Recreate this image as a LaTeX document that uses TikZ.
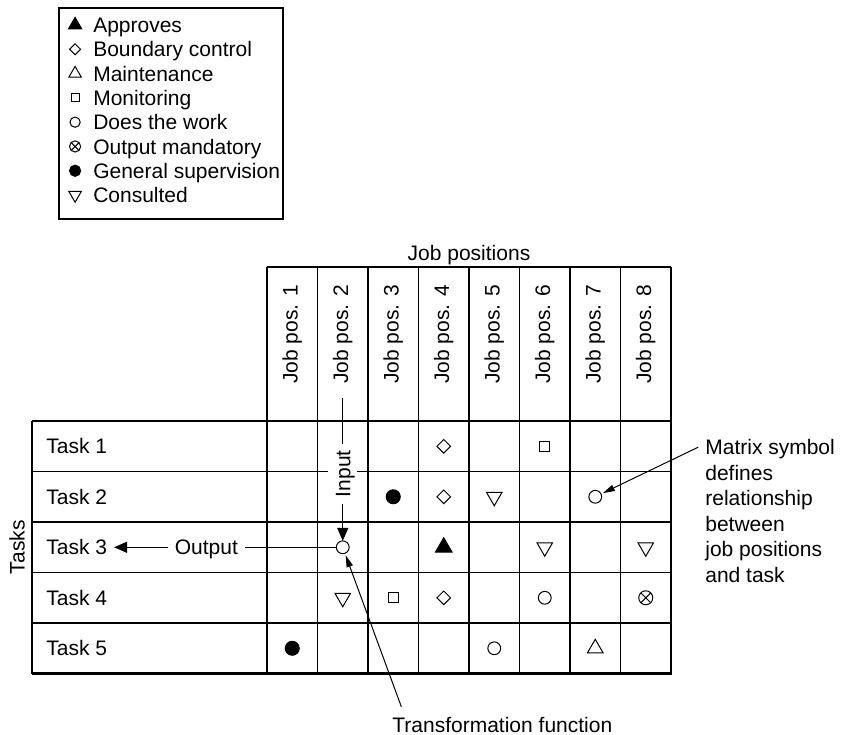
\documentclass[tikz,border=0pt]{standalone}
\usepackage{fontspec}
\setmainfont{Liberation Sans}
\usetikzlibrary{positioning,shapes.geometric,arrows.meta}
\newcommand{\markScale}{1}
\tikzstyle{chart} = [x = 25.25pt, y = -25.25pt, every node/.style={font=\fontsize{10.5}{12.8}\selectfont}]
\tikzstyle{gridLine} = [color=black, line width=.65pt]
\tikzstyle{borderLine} = [color=black, line width=1.2pt]
\tikzstyle{capText} = [text height=7.6pt, text depth=0pt]
\tikzstyle{markStyle} = [draw=black, fill=white, line width=.5pt, inner sep=0pt, outer sep=0pt]
\tikzstyle{approveMark} = [markStyle, regular polygon, regular polygon sides=3, minimum size=9.5pt*\markScale, fill=black]
\tikzstyle{boundaryMark} = [markStyle, diamond, minimum size=6.8pt*\markScale]
\tikzstyle{maintainMark} = [markStyle, regular polygon, regular polygon sides=3, minimum size=9pt*\markScale]
\tikzstyle{monitorMark} = [markStyle, rectangle, minimum size=5pt*\markScale]
\tikzstyle{workMark} = [markStyle, circle, minimum size=6.4pt*\markScale]
\tikzstyle{outputMark} = [markStyle, circle, minimum size=7pt*\markScale, path picture={\draw [line width=.5pt] (path picture bounding box.north west) -- (path picture bounding box.south east) (path picture bounding box.north east) -- (path picture bounding box.south west);}]
\tikzstyle{superviseMark} = [markStyle, circle, minimum size=7pt*\markScale, fill=black]
\tikzstyle{consultMark} = [markStyle, regular polygon, regular polygon sides=3, shape border rotate=180, minimum size=9pt*\markScale]
\tikzstyle{bigArrow} = [-{Triangle[length=6.5pt, width=5.5pt]}, line width=.65pt]
\tikzstyle{thinArrow} = [-{Triangle[length=6pt, width=3.2pt]}, line width=.5pt, shorten >=1pt]
\newcommand{\cellMark}[3]{\node [#3] (mark#1#2) at (#2 - .5, #1 - .5) {};}
\newcommand{\taskGridLines}[2]{
  \foreach \row in {0,...,#1} {
    \draw [gridLine] (-4.653, \row) -- (#2, \row);
  }
  \foreach \column in {0,...,#2} {
    \draw [gridLine] (\column, -3.05) -- (\column, #1);
  }
  \draw [gridLine] (-4.653, 0) -- (-4.653, #1);
  \draw [gridLine] (0, -3.05) -- (#2, -3.05);
  \draw [borderLine] (-4.653, #1) -- (#2, #1) -- (#2, 0);
}

\begin{document}
\begin{tikzpicture}[chart]
\useasboundingbox (-5.287, -8.337) rectangle (11.485, 6.198);
\draw [gridLine] (-4.119, -8.178) rectangle (.317, -4.0);
\foreach \markKind/\legendText [count=\i] in {approveMark/Approves, boundaryMark/Boundary control, maintainMark/Maintenance, monitorMark/Monitoring, workMark/Does the work, outputMark/Output mandatory, superviseMark/General supervision, consultMark/Consulted} {
  \renewcommand{\markScale}{.8}
  \pgfmathsetmacro{\legendY}{-7.842 + (\i - 1) * .481}
  \node [\markKind] (legendMark\i) at (-3.80, \legendY) {};
  \node [capText, anchor=west] (legendText\i) at (-3.58, \legendY) {\legendText};
}
\taskGridLines{5}{8}
\node (jobTitle) at (4, -3.29) {Job positions};
\foreach \column in {1,...,8} {
  \node [rotate=90] (job\column) at (\column - .5, -1.713) {Job pos. \column};
}
\foreach \row in {1,...,5} {
  \node [capText, anchor=west] (task\row) at (-4.509, \row - .5) {Task \row};
}
\node [rotate=90] (tasksTitle) at (-4.95, 2.5) {Tasks};
\cellMark{1}{4}{boundaryMark}\cellMark{1}{6}{monitorMark}
\cellMark{2}{3}{superviseMark}\cellMark{2}{4}{boundaryMark}\cellMark{2}{5}{consultMark}\cellMark{2}{7}{workMark}
\cellMark{3}{2}{workMark}\cellMark{3}{4}{approveMark}\cellMark{3}{6}{consultMark}\cellMark{3}{8}{consultMark}
\cellMark{4}{2}{consultMark}\cellMark{4}{3}{monitorMark}\cellMark{4}{4}{boundaryMark}\cellMark{4}{6}{workMark}\cellMark{4}{8}{outputMark}
\cellMark{5}{1}{superviseMark}\cellMark{5}{5}{workMark}\cellMark{5}{7}{maintainMark}
\coordinate (inputStart) at (1.5, -.455);
\draw [bigArrow] (inputStart) -- (mark32) node [pos=.53, rotate=90, fill=white, capText] (inputLabel) {Input};
\draw [bigArrow] (mark32) -- (task3) node [pos=.585, fill=white, capText] (outputLabel) {Output};
\node (transformLabel) at (4.66, 6.01) {Transformation function};
\draw [thinArrow] ([xshift=8pt, yshift=1.5pt]transformLabel.north west) -- (mark32);
\node [anchor=west, align=left] (matrixNote) at (8.54, 1.78) {Matrix symbol\\defines\\relationship\\between\\job positions\\and task};
\draw [thinArrow] ([yshift=-7.5pt]matrixNote.north west) -- (mark27);
\end{tikzpicture}
\end{document}
